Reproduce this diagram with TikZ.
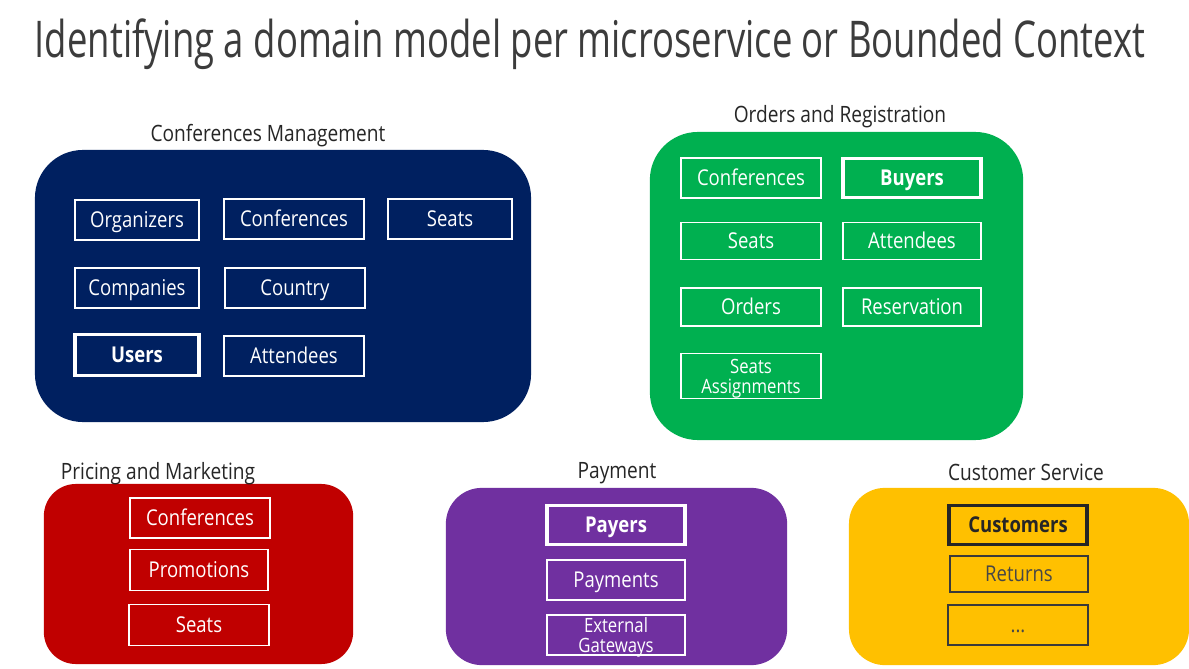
\documentclass[tikz,border=0pt]{standalone}
\usepackage{fontspec}
\setmainfont{Open Sans}[FakeStretch=0.85]
\newfontfamily\titlefont{Open Sans}[FakeStretch=0.72]
\usepackage{tikz}
\usetikzlibrary{positioning}

\definecolor{cmblue}{HTML}{002060}
\definecolor{orgreen}{HTML}{00B050}
\definecolor{pmred}{HTML}{C00000}
\definecolor{paypurple}{HTML}{7030A0}
\definecolor{csyellow}{HTML}{FFC000}
\definecolor{txtgray}{HTML}{262626}
\definecolor{darkline}{HTML}{3A3A3A}

\begin{document}
\begin{tikzpicture}[x=0.025cm,y=-0.025cm,
	grp/.style={rounded corners=1.2cm, inner sep=0pt},
	grptitle/.style={text=txtgray, font=\fontsize{16}{18}\selectfont, anchor=base},
	ent/.style={draw=white, line width=0.9pt, text=white, inner sep=0pt, align=center,
		text height=11.3pt, text depth=0pt,
		minimum width=3.5cm, minimum height=1cm, font=\fontsize{15.5}{15}\selectfont},
	twoline/.style={font=\fontsize{14}{14.5}\selectfont, text height=24.8pt},
	key/.style={ent, line width=2.6pt, font=\fontsize{15.5}{15}\selectfont\bfseries},
	dent/.style={ent, draw=darkline, text=txtgray!85},
	dkey/.style={key, draw=txtgray, text=txtgray}]
	\useasboundingbox (0,0) rectangle (1189,669);
	\fill[white] (0,0) rectangle (1189,669);
	\node[text=txtgray!90, font=\titlefont\fontsize{36}{40}\selectfont, anchor=base] (title) at (590,58) {Identifying a domain model per microservice or Bounded Context};

	% Conferences Management
	\node[grp, fill=cmblue, minimum width=12.4cm, minimum height=6.8cm] (cm) at (283,286) {};
	\node[grptitle] (cmt) at (268,142) {Conferences Management};
	\node[ent, minimum width=3.1cm] (org) at (137,220) {Organizers};
	\node[ent] (cmconf) at (294,219) {Conferences};
	\node[ent, minimum width=3.1cm] (cmseats) at (450,219) {Seats};
	\node[ent, minimum width=3.1cm] (comp) at (137,288) {Companies};
	\node[ent] (country) at (295,288) {Country};
	\node[key, minimum width=3.1cm, minimum height=1.02cm] (users) at (137,355) {Users};
	\node[ent] (cmatt) at (294,356) {Attendees};

	% Orders and Registration
	\node[grp, fill=orgreen, minimum width=9.33cm, minimum height=7.7cm] (or) at (836.5,286) {};
	\node[grptitle] (ort) at (840,123) {Orders and Registration};
	\node[ent] (orconf) at (751,178) {Conferences};
	\node[key, minimum width=3.45cm, minimum height=0.98cm] (buyers) at (912,178) {Buyers};
	\node[ent, minimum height=0.92cm] (orseats) at (751,241) {Seats};
	\node[ent, minimum width=3.45cm, minimum height=0.92cm] (oratt) at (912,241) {Attendees};
	\node[ent, minimum height=0.95cm] (orders) at (751,307) {Orders};
	\node[ent, minimum width=3.45cm, minimum height=0.95cm] (reserv) at (912,307) {Reservation};
	\node[ent, twoline, minimum height=1.12cm] (assign) at (751,376) {Seats\\Assignments};

	% Pricing and Marketing
	\node[grp, fill=pmred, rounded corners=0.8cm, minimum width=7.73cm, minimum height=4.5cm] (pm) at (198.5,574) {};
	\node[grptitle] (pmt) at (158,479) {Pricing and Marketing};
	\node[ent] (pmconf) at (200,518) {Conferences};
	\node[ent, minimum width=3.45cm, minimum height=1.02cm] (promo) at (199,570) {Promotions};
	\node[ent, minimum height=1.02cm] (pmseats) at (199,625) {Seats};

	% Payment
	\node[grp, fill=paypurple, rounded corners=0.9cm, minimum width=8.53cm, minimum height=4.43cm] (pay) at (616.5,576.5) {};
	\node[grptitle] (payt) at (617,478) {Payment};
	\node[key, minimum width=3.45cm, minimum height=0.98cm] (payers) at (616,525) {Payers};
	\node[ent, minimum width=3.45cm] (payments) at (616,580) {Payments};
	\node[ent, twoline, minimum width=3.45cm] (gateways) at (616,635) {External\\Gateways};

	% Customer Service
	\node[grp, fill=csyellow, rounded corners=0.9cm, minimum width=8.5cm, minimum height=4.43cm] (cs) at (1019,576.5) {};
	\node[grptitle] (cst) at (1026,480) {Customer Service};
	\node[dkey, minimum width=3.45cm, minimum height=0.98cm] (customers) at (1018,525) {Customers};
	\node[dent, minimum width=3.45cm, minimum height=0.9cm] (returns) at (1019,574) {Returns};
	\node[dent] (more) at (1018,625) {...};
\end{tikzpicture}
\end{document}
